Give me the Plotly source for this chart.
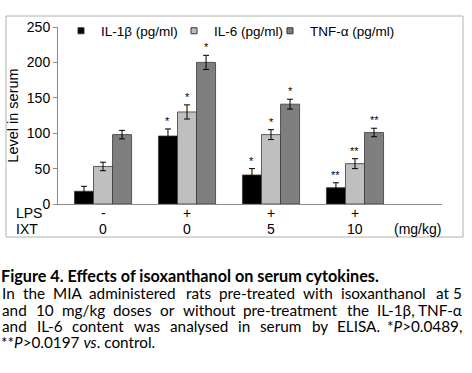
import plotly.graph_objects as go

# ---- data ----
groups = [0, 1, 2, 3]
lps_labels = ["-", "+", "+", "+"]
ixt_labels = ["0", "0", "5", "10"]
series_names = ["IL-1\u03b2 (pg/ml)", "IL-6 (pg/ml)", "TNF-\u03b1 (pg/ml)"]
il1b = [18, 96, 41, 23]
il1b_err = [7, 10, 9, 7]
il6 = [53, 130, 98, 57]
il6_err = [6, 10, 7, 7]
tnf = [98, 200, 141, 101]
tnf_err = [6, 10, 7, 6]
il1b_sig = ["", "*", "*", "**"]
il6_sig = ["", "*", "*", "**"]
tnf_sig = ["", "*", "*", "**"]
yticks = [0, 50, 100, 150, 200, 250]

colors = ["#000000", "#bfbfbf", "#7f7f7f"]
FONT = "Liberation Sans, Arial, sans-serif"
CAP = "Lato, Open Sans, sans-serif"

# plot area in pixels
W, H = 472, 373
L, R, T, B = 58, 30, 27, 169
pw, ph = W - L - R, H - T - B

def px(x):
    return (x - L) / pw

def py(y):
    return (H - B - y) / ph

fig = go.Figure()
vals = [il1b, il6, tnf]
errs = [il1b_err, il6_err, tnf_err]
sigs = [il1b_sig, il6_sig, tnf_sig]
legend_ids = ["legend", "legend2", "legend3"]
legend_text_x = [100, 213, 309]   # where each legend label starts (px)

for name, v, e, c in zip(series_names, vals, errs, colors):
    fig.add_trace(go.Bar(
        x=groups, y=v, name=name, legendgroup=name, showlegend=False,
        marker=dict(color=c, line=dict(color="#3a3a3a", width=0.8)),
        error_y=dict(type="data", array=e, color="#000000", thickness=1, width=3),
    ))
# legend entries with small square swatches
for name, c, lid in zip(series_names, colors, legend_ids):
    fig.add_trace(go.Scatter(
        x=[None], y=[None], mode="markers", name=name, legendgroup=name, legend=lid,
        marker=dict(symbol="square", size=6, color=c, line=dict(color="#333333", width=1)),
    ))

bargap = 0.32
bw = (1 - bargap) / 3
annotations = []
for k, (v, e, s) in enumerate(zip(vals, errs, sigs)):
    off = (k - 1) * bw
    for g, vv, ee, ss in zip(groups, v, e, s):
        if ss:
            annotations.append(dict(
                x=g + off, y=vv + ee, xref="x", yref="y", text=ss,
                showarrow=False, yanchor="bottom", yshift=0,
                font=dict(family=FONT, size=11, color="#000")))

# category rows under the axis
for g, a, b in zip(groups, lps_labels, ixt_labels):
    annotations.append(dict(x=g, y=py(213), xref="x", yref="paper", text=a,
                            showarrow=False, xanchor="center", yanchor="middle",
                            font=dict(family=FONT, size=14, color="#000")))
    annotations.append(dict(x=g, y=py(229), xref="x", yref="paper", text=b,
                            showarrow=False, xanchor="center", yanchor="middle",
                            font=dict(family=FONT, size=14, color="#000")))

annotations.append(dict(x=px(14), y=py(213), xref="paper", yref="paper", text="LPS",
                        showarrow=False, xanchor="left", yanchor="middle",
                        font=dict(family=FONT, size=14, color="#000")))
annotations.append(dict(x=px(14), y=py(229), xref="paper", yref="paper", text="IXT",
                        showarrow=False, xanchor="left", yanchor="middle",
                        font=dict(family=FONT, size=14, color="#000")))
annotations.append(dict(x=px(443), y=py(229), xref="paper", yref="paper", text="(mg/kg)",
                        showarrow=False, xanchor="right", yanchor="middle",
                        font=dict(family=FONT, size=14, color="#000")))

# caption
annotations.append(dict(x=px(-1), y=py(275), xref="paper", yref="paper",
                        text="<b>Figure 4. Effects of isoxanthanol on serum cytokines.</b>",
                        showarrow=False, xanchor="left", yanchor="middle",
                        font=dict(family=CAP, size=16.2, color="#000")))

_w = {
    "i": .23, "l": .23, "j": .23, "f": .31, "t": .33, "r": .35, "s": .42, "c": .46,
    "z": .44, "e": .51, "a": .49, "k": .49, "v": .49, "x": .49, "y": .49, "g": .49,
    "b": .55, "d": .55, "h": .55, "n": .55, "o": .55, "p": .55, "q": .55, "u": .55,
    "m": .83, "w": .76, "I": .26, "A": .66, "E": .54, "L": .47, "M": .84, "N": .74,
    "S": .51, "T": .56, "F": .52, "P": .57, "-": .33, ".": .2, ",": .2, "/": .35,
    "*": .4, ">": .58, "\u03b2": .55, "\u03b1": .54,
}

def est(word, size):
    plain = word.replace("<i>", "").replace("</i>", "")
    return sum(_w.get(ch, .58) for ch in plain) * size * 1.04

BODY = 15.3
body_lines = [
    (293, "In the MIA administered rats pre-treated with isoxanthanol at 5"),
    (310, "and 10 mg/kg doses or without pre-treatment the IL-1\u03b2, TNF-\u03b1"),
    (326, "and IL-6 content was analysed in serum by ELISA. *<i>P</i>>0.0489,"),
]
x_left, x_right = 0, 464
for yy, line in body_lines:
    words = line.split(" ")
    widths = [est(wd, BODY) for wd in words]
    gap = (x_right - x_left - sum(widths)) / (len(words) - 1)
    xx = x_left
    n = len(words)
    for i, (wd, ww) in enumerate(zip(words, widths)):
        last = i == n - 1
        annotations.append(dict(x=px(x_right if last else xx), y=py(yy),
                                xref="paper", yref="paper",
                                text=wd, showarrow=False,
                                xanchor="right" if last else "left",
                                yanchor="middle",
                                font=dict(family=CAP, size=BODY, color="#000")))
        xx += ww + gap
annotations.append(dict(x=px(-1), y=py(342), xref="paper", yref="paper",
                        text="**<i>P</i>>0.0197 <i>vs</i>. control.",
                        showarrow=False, xanchor="left", yanchor="middle",
                        font=dict(family=CAP, size=BODY, color="#000")))

shapes = [dict(type="rect", xref="paper", yref="paper",
               x0=px(6), x1=px(463), y0=py(237), y1=py(16),
               line=dict(color="#b0b0b0", width=1), fillcolor="rgba(0,0,0,0)", layer="below")]

legend_layouts = {}
for lid, tx in zip(legend_ids, legend_text_x):
    legend_layouts[lid] = dict(
        orientation="h", x=px(tx - 39), y=py(31), xanchor="left", yanchor="middle",
        font=dict(family=FONT, size=13.5, color="#000"), bgcolor="rgba(0,0,0,0)",
    )

fig.update_layout(
    width=W, height=H,
    margin=dict(l=L, r=R, t=T, b=B, pad=0),
    paper_bgcolor="white", plot_bgcolor="white",
    barmode="group", bargap=bargap, bargroupgap=0,
    font=dict(family=FONT, size=14, color="#000"),
    showlegend=True, hovermode=False,
    xaxis=dict(range=[-0.536, 4.036], tickvals=groups, showticklabels=False,
               showline=True, linecolor="#8c8c8c", linewidth=1, ticks="", showgrid=False,
               zeroline=False, fixedrange=True),
    yaxis=dict(range=[0, 250], tickvals=yticks, showline=True, linecolor="#8c8c8c",
               linewidth=1, ticks="outside", ticklen=4, tickcolor="#8c8c8c",
               showgrid=False, zeroline=False, tickfont=dict(family=FONT, size=14),
               fixedrange=True,
               title=dict(text="Level in serum", font=dict(family=FONT, size=14.5), standoff=4)),
    annotations=annotations,
    shapes=shapes,
    **legend_layouts,
)

fig.write_html("out.html", config={"displayModeBar": False},
               post_script="document.body.style.margin='0';")
